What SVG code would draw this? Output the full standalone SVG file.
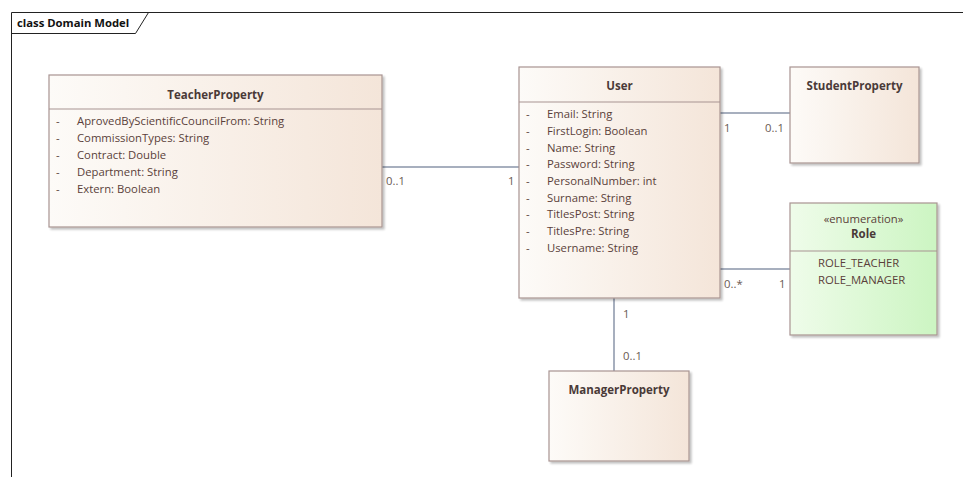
<svg xmlns="http://www.w3.org/2000/svg" width="963" height="477" viewBox="0 0 963 477">
<defs>
<linearGradient id="cls" x1="0" y1="0" x2="1" y2="0">
<stop offset="0" stop-color="#fdfbf8"/>
<stop offset="1" stop-color="#f4e5d9"/>
</linearGradient>
<linearGradient id="enm" x1="0" y1="0" x2="1" y2="0">
<stop offset="0" stop-color="#effcea"/>
<stop offset="1" stop-color="#ccf5c2"/>
</linearGradient>
<filter id="sh" x="-5%" y="-5%" width="115%" height="115%">
<feOffset dx="2" dy="2" in="SourceAlpha" result="o"/>
<feGaussianBlur in="o" stdDeviation="1" result="b"/>
<feComponentTransfer in="b" result="c"><feFuncA type="linear" slope="0.25"/></feComponentTransfer>
<feMerge><feMergeNode in="c"/><feMergeNode in="SourceGraphic"/></feMerge>
</filter>
</defs>
<style>
.box{fill:url(#cls);stroke:#a89492;stroke-width:1.2;filter:url(#sh)}
.ebox{fill:url(#enm);stroke:#a89492;stroke-width:1.2;filter:url(#sh)}
.div{stroke:#a89492;stroke-width:1.2}
text{font-family:"Open Sans","Noto Sans","Liberation Sans",sans-serif;font-size:11.3px;fill:#5a3f3a}
.t{font-weight:bold;font-size:11.5px;fill:#4a3a38;text-anchor:middle}
.st{text-anchor:middle}
.lbl{fill:#6a5a52}
.con{stroke:#8a94a8;stroke-width:1.5;fill:none}
.frame{stroke:#222;stroke-width:1;fill:none}
.ft{font-weight:bold;font-size:11.3px;fill:#111}
</style>
<rect width="963" height="477" fill="#ffffff"/>
<g id="frame">
<path class="frame" d="M11.5,477 V12.5 H963"/>
<path class="frame" d="M11.5,33.5 H135.5 L148.5,12.5"/>
<text class="ft" x="17" y="27">class Domain Model</text>
</g>
<g id="connectors">
<line class="con" x1="382" y1="167" x2="519" y2="167"/>
<text class="lbl" x="386" y="185">0..1</text>
<text class="lbl" x="508" y="185">1</text>
<line class="con" x1="720" y1="113" x2="790" y2="113"/>
<text class="lbl" x="724" y="132">1</text>
<text class="lbl" x="765" y="132">0..1</text>
<line class="con" x1="720" y1="269" x2="790" y2="269"/>
<text class="lbl" x="724" y="288">0..*</text>
<text class="lbl" x="779" y="288">1</text>
<line class="con" x1="614" y1="298" x2="614" y2="371"/>
<text class="lbl" x="623" y="318">1</text>
<text class="lbl" x="623" y="360">0..1</text>
</g>
<g id="TeacherProperty">
<rect class="box" x="49" y="75" width="333" height="152"/>
<line class="div" x1="49" y1="109" x2="382" y2="109"/>
<text class="t" x="215.5" y="99">TeacherProperty</text>
<text x="56" y="125">-</text><text x="77" y="125">AprovedByScientificCouncilFrom: String</text>
<text x="56" y="142">-</text><text x="77" y="142">CommissionTypes: String</text>
<text x="56" y="159">-</text><text x="77" y="159">Contract: Double</text>
<text x="56" y="176">-</text><text x="77" y="176">Department: String</text>
<text x="56" y="193">-</text><text x="77" y="193">Extern: Boolean</text>
</g>
<g id="User">
<rect class="box" x="519" y="67" width="201" height="231"/>
<line class="div" x1="519" y1="102" x2="720" y2="102"/>
<text class="t" x="619.5" y="90">User</text>
<text x="526" y="118">-</text><text x="547" y="118">Email: String</text>
<text x="526" y="135">-</text><text x="547" y="135">FirstLogin: Boolean</text>
<text x="526" y="152">-</text><text x="547" y="152">Name: String</text>
<text x="526" y="168">-</text><text x="547" y="168">Password: String</text>
<text x="526" y="185">-</text><text x="547" y="185">PersonalNumber: int</text>
<text x="526" y="202">-</text><text x="547" y="202">Surname: String</text>
<text x="526" y="218">-</text><text x="547" y="218">TitlesPost: String</text>
<text x="526" y="235">-</text><text x="547" y="235">TitlesPre: String</text>
<text x="526" y="252">-</text><text x="547" y="252">Username: String</text>
</g>
<g id="StudentProperty">
<rect class="box" x="790" y="67" width="129" height="96"/>
<text class="t" x="854.5" y="90">StudentProperty</text>
</g>
<g id="Role">
<rect class="ebox" x="790" y="203" width="147" height="132"/>
<line class="div" x1="790" y1="251" x2="937" y2="251"/>
<text class="st" x="863.5" y="223">«enumeration»</text>
<text class="t" x="863.5" y="238">Role</text>
<text x="818" y="267">ROLE_TEACHER</text>
<text x="818" y="284">ROLE_MANAGER</text>
</g>
<g id="ManagerProperty">
<rect class="box" x="549" y="371" width="140" height="90"/>
<text class="t" x="619" y="394">ManagerProperty</text>
</g>
</svg>
